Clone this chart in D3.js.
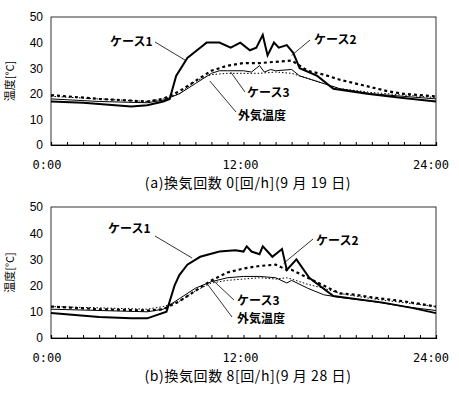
<!DOCTYPE html><html><head><meta charset="utf-8">
<script src="https://cdn.jsdelivr.net/npm/d3@7"></script>
<style>body{margin:0;background:#fff}svg{font-family:"Noto Sans CJK JP","DejaVu Sans",sans-serif}</style></head><body>
<svg id="c" width="459" height="400"></svg>
<script>
const yTicks=[0,10,20,30,40,50];
const xTickLabels=["0:00","12:00","24:00"];
const titles=["(a)換気回数 0[回/h](9 月 19 日)","(b)換気回数 8[回/h](9 月 28 日)"];
const seriesNames=["ケース1","ケース2","ケース3","外気温度"];
const a_case1=[[0,17],[2,16.5],[4,15.5],[5,15],[6,15.5],[7,17],[7.4,18],[7.8,27],[8.5,34],[9.3,38],[9.7,40],[10.5,40],[11.2,38],[11.8,40],[12.4,37],[12.8,38],[13.2,43],[13.5,35],[13.9,40],[14.2,38],[14.7,39],[15.1,36],[15.5,30],[16.6,27],[17.6,22],[19.7,20],[21.8,18.5],[24,17]];
const a_case2=[[0,19.5],[3,18],[6,17],[7,18],[8,21],[9,25],[10,29],[11,31],[12,32],[13,32],[14,32.5],[15,33],[15.5,31],[16,29],[17,27.5],[18,25.5],[19,24],[20,22.5],[21,21],[22,20],[23,19.5],[24,19]];
const a_case3=[[0,18],[3,17],[6,16.5],[7,17.5],[8,20],[9,24],[10,28],[10.5,29],[11,29],[12,29],[12.5,28.5],[13,31],[13.3,28.5],[13.7,29.5],[14,29],[15,29.5],[15.5,27],[16,26],[17,24],[18,22],[19,21],[20,20],[22,19],[24,18]];
const a_out=[[0,19],[3,18],[6,17],[7,18],[8,20],[9,25],[10,27.5],[11,28],[12,28],[13,28],[14,28.5],[15,28],[16,26],[17,24],[18,22],[20,20.5],[22,19.5],[24,18.5]];
const b_case1=[[0,9.5],[3,8],[5,7.5],[6,7.5],[7.2,10],[7.7,20],[8,24],[8.5,28],[9.3,31],[10.5,33],[11.5,33.5],[12,33],[12.2,35],[12.5,33],[13,32],[13.2,35],[13.5,33],[13.8,31],[14.4,34],[14.7,26],[15.3,30],[16.1,23],[17.6,16],[20.7,13.5],[22.5,11.5],[24,9.5]];
const b_case2=[[0,12],[3,11],[6,10.5],[7,11],[8,14],[9,18],[10,22],[11,25],[12,26.5],[13,27.5],[14,28],[14.7,26],[15,26],[16,23],[17,20],[18,17],[19,16.5],[20,15.5],[22,14],[24,12]];
const b_case3=[[0,11],[6,10],[7,11],[8,15],[9,19],[10,21.5],[11,23],[12,23.5],[13,23.5],[14,23],[14.7,21],[15,22],[16,19],[17,16.5],[18,15.5],[20,14],[22,12],[24,10.5]];
const b_out=[[0,12],[6,11],[7,12],[8,14],[9,18],[10,21],[11,22],[12,22.5],[13,23],[14,22.5],[14.7,23],[15,22.5],[16,20.5],[17,19],[18,17],[20,15],[22,13.5],[24,12]];

const svg=d3.select("#c");
// label: [textX, baselineY, leaderStartX, leaderStartY, targetHour, targetValue]
const panels=[
 {top:17,bot:145,data:[a_case1,a_case2,a_case3,a_out],title:titles[0],
  labels:[[110,46,155,42,8.4,33],[314,44,310,40,15,35],[247,97,245,92,11.2,28.5],[238,120,236,112,9.9,25]]},
 {top:207,bot:338,data:[b_case1,b_case2,b_case3,b_out],title:titles[1],
  labels:[[108,233,155,236,8.8,30.5],[316,245,313,239,14.5,28.5],[237,305,234,300,10.1,22],[237,323,232,317,9.7,21]]}
];
const styles=[{w:2,d:null},{w:2.2,d:"3,3"},{w:1,d:null},{w:1,d:"1.5,2"}];
panels.forEach(p=>{
 const x=d3.scaleLinear().domain([0,24]).range([51,436]);
 const y=d3.scaleLinear().domain([0,50]).range([p.bot,p.top]);
 const g=svg.append("g");
 g.append("rect").attr("x",51).attr("y",p.top).attr("width",385).attr("height",p.bot-p.top).attr("fill","none").attr("stroke","#000").attr("stroke-width",0.8);
 g.append("g").attr("transform","translate(51,0)").call(d3.axisLeft(y).tickValues(yTicks).tickSize(0).tickPadding(8))
  .call(s=>{s.select(".domain").remove();s.selectAll("text").attr("font-size",12).attr("font-family","Liberation Sans")});
 g.append("g").attr("transform",`translate(0,${p.bot})`).call(d3.axisTop(x).ticks(24).tickSize(3).tickFormat(""))
  .call(s=>s.select(".domain").attr("stroke-width",1.2));
 [0,12,24].forEach((h,i)=>g.append("text").attr("x",x(h)+(h==0?-4:h==24?-5:-3)).attr("y",p.bot+24).attr("text-anchor","middle").attr("font-size",12).attr("font-family","DejaVu Sans Mono").text(xTickLabels[i]));
 g.append("text").attr("transform",`translate(14,${(p.top+p.bot)/2}) rotate(-90)`).attr("text-anchor","middle").attr("font-size",11).text("温度[°C]");
 g.append("text").attr("x",248).attr("y",p.bot+43).attr("text-anchor","middle").attr("font-size",14).attr("letter-spacing",0.6).text(p.title);
 const line=d3.line().x(d=>x(d[0])).y(d=>y(d[1]));
 [3,2,1,0].forEach(i=>g.append("path").datum(p.data[i]).attr("d",line).attr("fill","none").attr("stroke","#000")
   .attr("stroke-width",styles[i].w).attr("stroke-dasharray",styles[i].d));
 p.labels.forEach((L,i)=>{
  g.append("text").attr("x",L[0]).attr("y",L[1]).attr("font-size",12).attr("font-weight","bold").text(seriesNames[i]);
  g.append("line").attr("x1",L[2]).attr("y1",L[3]).attr("x2",x(L[4])).attr("y2",y(L[5])).attr("stroke","#000").attr("stroke-width",0.8);
 });
});
</script></body></html>
